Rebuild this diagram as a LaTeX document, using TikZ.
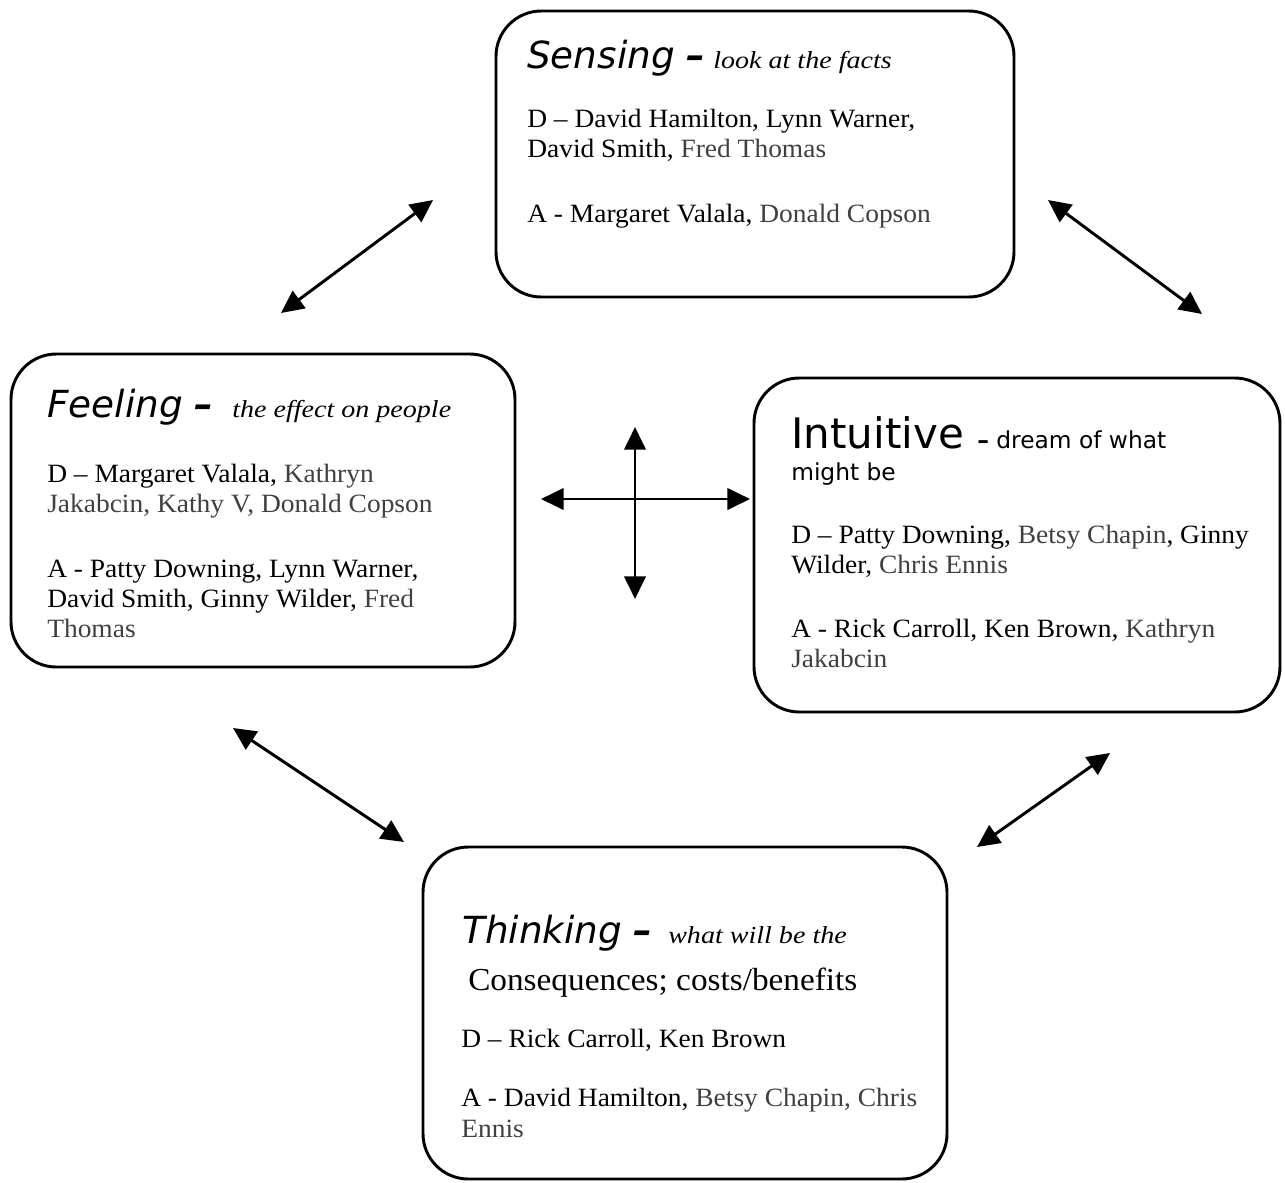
\documentclass[tikz,border=0pt]{standalone}
\usepackage{fontspec}
\usetikzlibrary{arrows.meta}
\setmainfont{Liberation Serif}[FakeStretch=1.04]
\newfontfamily\subfont{Liberation Serif}[FakeStretch=1.15]
\newfontfamily\headfont{DejaVu Sans}
\newcommand\bodytxt{\fontsize{19.8}{22.5}\selectfont}
\newcommand\headtxt{\headfont\fontsize{28}{32}\selectfont\itshape}
\newcommand\subtxt{\subfont\fontsize{18.3}{22}\selectfont\itshape}
\newcommand\hdash{{\bfseries –}}
\definecolor{gr}{HTML}{404040}
\begin{document}
\begin{tikzpicture}[x=0.75pt,y=-0.75pt,
  box/.style={draw=black, line width=2.2pt, rounded corners=34pt, inner sep=0pt},
  txt/.style={anchor=base west, inner sep=0pt, font=\bodytxt},
  dbl/.style={line width=2.2pt, {Triangle[length=17pt,width=16pt]}-{Triangle[length=17pt,width=16pt]}}]
\useasboundingbox (0,0) rectangle (1285,1182);
% boxes
\node[box, minimum width=388.5pt, minimum height=214.5pt] (S) at (755,154) {};
\node[box, minimum width=378pt, minimum height=234.75pt] (F) at (263,510.5) {};
\node[box, minimum width=394.5pt, minimum height=250.5pt] (I) at (1017,545) {};
\node[box, minimum width=393pt, minimum height=249pt] (T) at (685,1013) {};
% Sensing
\node[txt, font=\headtxt] (sh) at (527,68) {Sensing \hdash};
\node[txt, font=\subtxt] (ss) at (713,68) {look at the facts};
\node[txt] (s1) at (527,127) {D – David Hamilton, Lynn Warner,};
\node[txt] (s2) at (527,157) {David Smith, \textcolor{gr}{Fred Thomas}};
\node[txt] (s3) at (527,222) {A - Margaret Valala, \textcolor{gr}{Donald Copson}};
% Feeling
\node[txt, font=\headtxt] (fh) at (47,417) {Feeling \hdash};
\node[txt, font=\subtxt] (fs) at (232,417) {the effect on people};
\node[txt] (f1) at (47,482) {D – Margaret Valala, \textcolor{gr}{Kathryn}};
\node[txt] (f2) at (47,512) {\textcolor{gr}{Jakabcin, Kathy V, Donald Copson}};
\node[txt] (f3) at (47,577) {A - Patty Downing, Lynn Warner,};
\node[txt] (f4) at (47,607) {David Smith, Ginny Wilder, \textcolor{gr}{Fred}};
\node[txt] (f5) at (47,637) {\textcolor{gr}{Thomas}};
% Intuitive
\node[txt, font=\headfont\fontsize{31.5}{36}\selectfont] (ih) at (791,448) {Intuitive};
\node[txt, font=\headfont\fontsize{17.5}{21}\selectfont] (is) at (977,448) {\hdash{} dream of what};
\node[txt, font=\headfont\fontsize{17.5}{21}\selectfont] (is2) at (791,480) {might be};
\node[txt] (i1) at (791,543) {D – Patty Downing, \textcolor{gr}{Betsy Chapin}, Ginny};
\node[txt] (i2) at (791,573) {Wilder, \textcolor{gr}{Chris Ennis}};
\node[txt] (i3) at (791,637) {A - Rick Carroll, Ken Brown, \textcolor{gr}{Kathryn}};
\node[txt] (i4) at (791,667) {\textcolor{gr}{Jakabcin}};
% Thinking
\node[txt, font=\headtxt] (th) at (462,943) {Thinking \hdash};
\node[txt, font=\subtxt] (ts) at (668,943) {what will be the};
\node[txt, font=\fontsize{24}{28}\selectfont] (tc) at (468,990) {Consequences; costs/benefits};
\node[txt] (t1) at (461,1047) {D – Rick Carroll, Ken Brown};
\node[txt] (t2) at (461,1106) {A - David Hamilton, \textcolor{gr}{Betsy Chapin, Chris}};
\node[txt] (t3) at (461,1137) {\textcolor{gr}{Ennis}};
% arrow end points
\coordinate (a1a) at (433,200); \coordinate (a1b) at (281,313);
\coordinate (a2a) at (1048,200); \coordinate (a2b) at (1202,314);
\coordinate (a3a) at (233,728); \coordinate (a3b) at (404,842);
\coordinate (a4a) at (1110,753); \coordinate (a4b) at (977,847);
\coordinate (hl) at (541,499); \coordinate (hr) at (750,499);
\coordinate (vt) at (635,427); \coordinate (vb) at (635,599);
\draw[dbl] (a1a) -- (a1b);
\draw[dbl] (a2a) -- (a2b);
\draw[dbl] (a3a) -- (a3b);
\draw[dbl] (a4a) -- (a4b);
\draw[dbl] (hl) -- (hr);
\draw[dbl] (vt) -- (vb);
\end{tikzpicture}
\end{document}
